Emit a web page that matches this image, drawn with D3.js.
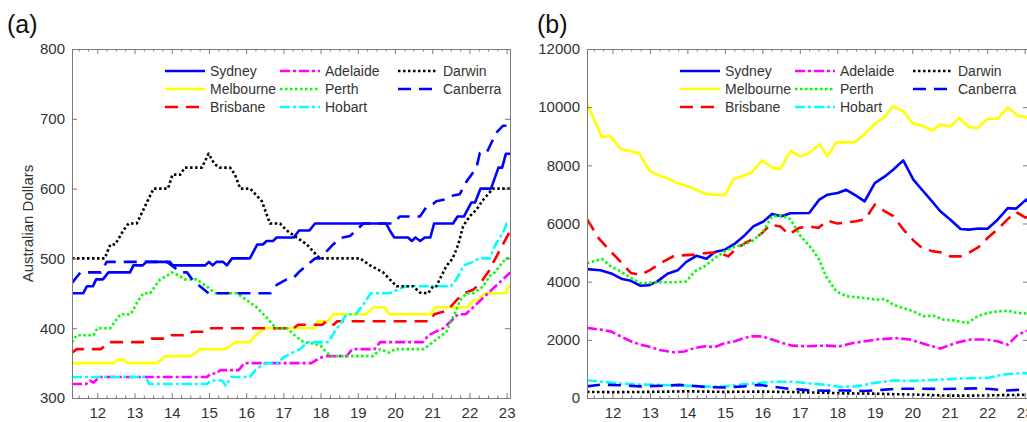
<!DOCTYPE html>
<html>
<head>
<meta charset="utf-8">
<script src="https://cdn.jsdelivr.net/npm/d3@7/dist/d3.min.js"></script>
<style>
html,body{margin:0;padding:0;background:#fff;overflow:hidden;}
svg{display:block;font-family:"Liberation Sans",Arial,Helvetica,sans-serif;}
</style>
</head>
<body>
<svg id="chart" width="1027" height="422"></svg>
<script>
// ---------------- DATA ----------------
const categories = ["Sydney","Melbourne","Brisbane","Adelaide","Perth","Hobart","Darwin","Canberra"];
const panelTitles = ["(a)","(b)"];
const yLabelA = "Australian Dollars";
const xTicks = [12,13,14,15,16,17,18,19,20,21,22,23];
const yTicksA = [300,400,500,600,700,800];
const yTicksB = [0,2000,4000,6000,8000,10000,12000];
const xDomain = [11.32, 23.09];

// Panel (a): median weekly rent, [year, AUD]
const rentSydney = [[11.32,450],[11.62,450],[11.72,460],[11.88,460],[11.97,470],[12.15,470],[12.3,480],[12.88,480],[12.97,490],[13.22,490],[13.32,495],[13.95,495],[14.02,490],[14.9,490],[15.0,495],[15.1,490],[15.2,495],[15.38,495],[15.48,490],[15.62,500],[16.1,500],[16.2,510],[16.3,520],[16.45,520],[16.55,525],[16.72,525],[16.82,530],[17.28,530],[17.42,540],[17.7,540],[17.85,550],[19.76,550],[19.86,540],[19.98,530],[20.35,530],[20.45,525],[20.55,530],[20.68,525],[20.8,530],[20.95,530],[21.05,550],[21.56,550],[21.68,560],[21.85,560],[21.95,570],[22.05,580],[22.15,580],[22.3,600],[22.58,600],[22.78,630],[22.88,630],[22.98,650],[23.1,650]];
const rentMelbourne = [[11.32,350],[12.45,350],[12.55,355],[12.72,355],[12.82,350],[13.6,350],[13.72,355],[13.82,360],[14.5,360],[14.65,365],[14.75,370],[15.45,370],[15.58,375],[15.7,380],[16.1,380],[16.25,390],[16.38,395],[16.52,400],[17.85,400],[17.92,410],[18.2,410],[18.35,420],[19.2,420],[19.32,425],[19.42,430],[19.72,430],[19.85,420],[20.95,420],[21.08,430],[21.95,430],[22.1,440],[22.25,440],[22.4,450],[22.98,450],[23.05,460],[23.1,460]];
const rentBrisbane = [[11.32,365],[11.45,370],[12.1,370],[12.3,380],[13.3,380],[13.45,385],[13.9,385],[14.0,390],[14.45,390],[14.55,395],[14.85,395],[14.95,400],[17.28,400],[17.4,405],[18.05,405],[18.15,410],[18.25,410],[18.35,405],[18.45,410],[20.95,410],[21.05,420],[21.4,425],[21.65,440],[21.85,450],[22.1,455],[22.3,465],[22.5,480],[22.7,500],[22.9,520],[23.1,540]];
const rentAdelaide = [[11.32,320],[11.7,320],[11.8,325],[11.9,322],[12.05,330],[14.95,330],[15.05,335],[15.2,335],[15.3,340],[15.8,340],[15.95,350],[17.75,350],[17.9,355],[18.1,360],[18.7,360],[18.85,370],[19.45,370],[19.6,380],[20.75,380],[20.9,390],[21.1,395],[21.3,400],[21.5,410],[21.7,420],[21.9,420],[22.1,430],[22.3,440],[22.5,450],[22.7,460],[22.9,470],[23.1,480]];
const rentPerth = [[11.32,380],[11.45,390],[11.9,390],[12.0,400],[12.35,400],[12.48,410],[12.62,420],[12.9,420],[13.1,440],[13.24,450],[13.42,450],[13.55,460],[13.69,470],[13.87,475],[14.0,480],[14.2,475],[14.35,470],[14.67,470],[14.94,460],[15.17,450],[15.75,450],[16.02,440],[16.28,430],[16.55,415],[16.8,400],[17.1,400],[17.3,390],[17.54,380],[17.8,378],[18.0,375],[18.16,365],[18.3,360],[19.41,360],[19.6,370],[19.85,365],[20.0,370],[20.76,370],[21.02,380],[21.38,395],[21.6,420],[21.75,440],[21.92,450],[22.1,450],[22.37,460],[22.55,475],[22.68,480],[22.9,495],[23.0,500],[23.1,500]];
const rentHobart = [[11.32,330],[13.3,330],[13.4,320],[14.95,320],[15.05,325],[15.35,325],[15.45,318],[15.6,330],[16.1,330],[16.25,340],[16.5,350],[16.85,350],[17.0,358],[17.25,365],[17.45,370],[17.65,380],[18.2,380],[18.38,395],[18.55,408],[18.7,420],[18.95,420],[19.15,434],[19.35,450],[19.85,450],[20.1,456],[20.3,460],[21.5,460],[21.65,470],[21.85,490],[22.1,495],[22.25,500],[22.55,500],[22.7,520],[22.9,537],[23.0,550],[23.1,550]];
const rentDarwin = [[11.32,500],[12.2,500],[12.35,520],[12.48,520],[12.7,540],[12.84,550],[13.06,550],[13.33,580],[13.51,600],[13.9,600],[14.02,620],[14.23,620],[14.35,630],[14.81,630],[14.99,650],[15.15,635],[15.3,630],[15.57,630],[15.7,620],[15.84,600],[16.11,600],[16.42,582],[16.64,550],[16.91,550],[17.09,540],[17.36,530],[17.63,520],[17.8,510],[17.98,500],[19.06,500],[19.33,490],[19.68,480],[19.86,470],[20.04,460],[20.49,460],[20.67,451],[20.89,450],[21.02,460],[21.11,460],[21.2,470],[21.38,489],[21.55,500],[21.7,520],[21.83,546],[22.0,560],[22.19,570],[22.37,584],[22.63,600],[23.1,600]];
const rentCanberra = [[11.32,465],[11.55,480],[12.1,480],[12.25,495],[13.87,495],[14.0,490],[14.23,480],[14.41,480],[14.58,468],[14.76,460],[14.99,450],[16.65,450],[16.82,462],[17.09,470],[17.27,472],[17.45,482],[17.72,494],[17.85,500],[17.98,500],[18.34,520],[18.52,529],[18.79,532],[18.97,541],[19.15,550],[19.95,550],[20.13,560],[20.67,560],[20.85,574],[21.02,578],[21.11,582],[21.38,585],[21.56,590],[21.74,592],[21.92,610],[22.19,630],[22.28,651],[22.46,651],[22.72,680],[22.9,690],[23.1,690]];

// Panel (b): number of listings, [year, count]
const listSydney = [[11.32,4430],[11.68,4390],[11.99,4270],[12.26,4090],[12.49,4030],[12.75,3860],[12.98,3880],[13.2,4010],[13.47,4270],[13.74,4390],[13.97,4680],[14.24,4890],[14.51,4790],[14.73,5020],[15.0,5100],[15.27,5310],[15.5,5560],[15.76,5900],[16.03,6070],[16.26,6330],[16.51,6250],[16.75,6350],[17.25,6360],[17.52,6820],[17.74,6990],[18.01,7050],[18.24,7160],[18.5,6960],[18.73,6760],[19.0,7390],[19.27,7620],[19.49,7850],[19.76,8170],[20.03,7510],[20.26,7160],[20.53,6760],[20.75,6420],[21.02,6130],[21.29,5810],[21.51,5790],[21.78,5830],[22.01,5820],[22.28,6130],[22.55,6530],[22.77,6510],[23.04,6820],[23.19,6680]];
const listMelbourne = [[11.32,10120],[11.72,8970],[11.95,9000],[12.22,8560],[12.71,8420],[12.98,7830],[13.25,7640],[13.47,7560],[13.74,7390],[14.01,7280],[14.51,7010],[15.0,6970],[15.23,7530],[15.5,7640],[15.72,7760],[15.99,8170],[16.26,7930],[16.48,7870],[16.75,8500],[17.02,8310],[17.25,8420],[17.52,8730],[17.74,8310],[17.97,8790],[18.46,8790],[18.73,9080],[19.0,9420],[19.27,9680],[19.49,10030],[19.76,9860],[20.03,9420],[20.26,9370],[20.53,9200],[20.75,9400],[21.02,9340],[21.25,9630],[21.51,9320],[21.74,9280],[22.01,9600],[22.28,9600],[22.55,9990],[22.82,9710],[23.04,9660],[23.19,9450]];
const listBrisbane = [[11.32,6150],[11.63,5500],[11.95,5040],[12.22,4680],[12.49,4300],[12.75,4230],[13.0,4400],[13.29,4640],[13.65,4890],[14.19,4930],[14.55,4990],[14.82,5010],[15.09,4870],[15.27,5100],[15.54,5330],[15.81,5500],[15.99,5670],[16.21,5960],[16.48,5900],[16.71,5620],[16.98,5850],[17.25,5900],[17.5,5850],[17.74,6100],[18.0,6000],[18.24,6030],[18.5,6080],[18.75,6150],[19.0,6650],[19.27,6420],[19.5,6250],[19.76,5800],[20.03,5420],[20.26,5160],[20.53,5050],[20.8,5000],[21.02,4870],[21.29,4870],[21.51,4990],[21.78,5200],[22.01,5500],[22.28,5800],[22.55,6150],[22.77,6400],[23.02,6200],[23.19,6280]];
const listAdelaide = [[11.32,2410],[11.68,2350],[11.95,2290],[12.22,2120],[12.49,1950],[12.75,1830],[13.02,1750],[13.29,1640],[13.65,1570],[13.92,1600],[14.19,1720],[14.46,1780],[14.73,1750],[15.0,1890],[15.27,1950],[15.5,2060],[15.72,2120],[15.99,2120],[16.26,2010],[16.53,1890],[16.8,1800],[17.16,1780],[17.7,1800],[18.06,1780],[18.42,1890],[19.04,2010],[19.58,2060],[19.94,2010],[20.39,1830],[20.75,1700],[21.2,1910],[21.56,2010],[21.96,2010],[22.28,1950],[22.55,1830],[22.82,2180],[23.19,2370]];
const listPerth = [[11.32,4640],[11.72,4780],[11.95,4530],[12.22,4350],[12.49,4130],[12.75,3950],[13.29,3980],[13.65,3980],[13.97,4010],[14.19,4350],[14.46,4530],[14.73,4810],[15.0,5040],[15.27,5210],[15.5,5270],[15.72,5390],[15.99,5670],[16.26,6250],[16.51,6270],[16.75,6150],[17.0,5600],[17.34,5100],[17.52,4750],[17.7,4180],[17.97,3670],[18.24,3500],[18.73,3440],[19.04,3380],[19.27,3400],[19.49,3210],[19.76,3090],[20.03,2980],[20.3,2810],[20.57,2830],[20.84,2690],[21.11,2670],[21.47,2580],[21.74,2810],[22.01,2920],[22.28,2980],[22.55,3000],[22.82,2920],[23.09,2900],[23.19,2980]];
const listHobart = [[11.32,610],[11.7,560],[12.2,500],[12.75,460],[13.3,450],[13.9,430],[14.5,390],[15.0,400],[15.5,470],[16.0,530],[16.3,560],[16.8,560],[17.2,510],[17.7,450],[18.1,380],[18.5,400],[19.0,520],[19.5,600],[20.0,590],[20.5,620],[21.0,650],[21.5,680],[22.0,690],[22.5,820],[23.0,860],[23.19,800]];
const listDarwin = [[11.32,210],[12.0,200],[13.0,210],[14.0,230],[15.0,210],[16.0,220],[17.0,200],[17.6,180],[18.2,160],[19.0,150],[19.5,130],[20.0,120],[20.5,100],[21.0,80],[21.5,80],[22.0,90],[22.5,100],[23.0,110],[23.19,110]];
const listCanberra = [[11.32,400],[11.7,460],[12.2,440],[12.75,400],[13.3,420],[13.8,450],[14.2,410],[14.6,370],[15.0,360],[15.5,400],[15.9,450],[16.3,390],[16.7,320],[17.2,270],[17.7,250],[18.2,260],[18.7,240],[19.2,280],[19.6,320],[20.2,320],[20.8,310],[21.3,320],[21.7,330],[22.1,310],[22.5,260],[23.0,290],[23.19,300]];

const seriesA = [rentSydney,rentMelbourne,rentBrisbane,rentAdelaide,rentPerth,rentHobart,rentDarwin,rentCanberra];
const seriesB = [listSydney,listMelbourne,listBrisbane,listAdelaide,listPerth,listHobart,listDarwin,listCanberra];

// ---------------- STYLE ----------------
const styles = {
  Sydney:    {color:"#0000ff", dash:null},
  Melbourne: {color:"#ffff00", dash:null},
  Brisbane:  {color:"#ff0000", dash:"13,8"},
  Adelaide:  {color:"#ff00ff", dash:"10,3,3,3"},
  Perth:     {color:"#00ff00", dash:"2.5,2.5"},
  Hobart:    {color:"#00ffff", dash:"10,3,3,3"},
  Darwin:    {color:"#000000", dash:"2.5,2.5"},
  Canberra:  {color:"#0000ff", dash:"13,8"}
};
const LW = 2.6;
const axisColor = "#7a7a7a";
const textColor = "#333333";

const svg = d3.select("#chart");
const plotTop = 49, plotBottom = 398;

const panels = [
  {left:72, right:510, yDomain:[300,800], yTicks:yTicksA, data:seriesA, title:panelTitles[0], titleX:7, ylabel:yLabelA},
  {left:587, right:1028, yDomain:[0,12000], yTicks:yTicksB, data:seriesB, title:panelTitles[1], titleX:537, ylabel:null}
];

panels.forEach((p, pi) => {
  const x = d3.scaleLinear().domain(xDomain).range([p.left, p.right]);
  const y = d3.scaleLinear().domain(p.yDomain).range([plotBottom, plotTop]);
  const g = svg.append("g");

  const clipId = "clip" + pi;
  svg.append("clipPath").attr("id", clipId).append("rect")
    .attr("x", p.left).attr("y", plotTop).attr("width", p.right - p.left).attr("height", plotBottom - plotTop);

  const line = d3.line().x(d => x(d[0])).y(d => y(d[1]));
  const lines = g.append("g").attr("clip-path", `url(#${clipId})`);
  p.data.forEach((s, i) => {
    const st = styles[categories[i]];
    lines.append("path").datum(s)
      .attr("d", line)
      .attr("fill", "none")
      .attr("stroke", st.color)
      .attr("stroke-width", LW)
      .attr("stroke-linejoin", "round")
      .attr("stroke-dasharray", st.dash);
  });

  const quarters = d3.range(11.5, 23.09, 0.25).filter(v => Math.abs(v - Math.round(v)) > 1e-6);
  const styleAxis = sel => {
    sel.selectAll(".domain").attr("stroke", axisColor).attr("stroke-width", 1);
    sel.selectAll(".tick line").attr("stroke", axisColor).attr("stroke-width", 1);
    sel.selectAll("text").attr("fill", textColor).attr("font-size", 15)
      .attr("font-family", '"Liberation Sans",Arial,sans-serif');
  };
  g.append("g").attr("transform", `translate(0,${plotBottom})`)
    .call(d3.axisBottom(x).tickValues(xTicks).tickSize(-5).tickSizeOuter(0).tickPadding(9.5).tickFormat(d3.format("d")))
    .call(styleAxis);
  g.append("g").attr("transform", `translate(0,${plotBottom})`)
    .call(d3.axisBottom(x).tickValues(quarters).tickSize(-2.5).tickSizeOuter(0).tickFormat(""))
    .call(styleAxis);
  g.append("g").attr("transform", `translate(0,${plotTop})`)
    .call(d3.axisTop(x).tickValues(xTicks).tickSize(-5).tickSizeOuter(0).tickFormat(""))
    .call(styleAxis);
  g.append("g").attr("transform", `translate(0,${plotTop})`)
    .call(d3.axisTop(x).tickValues(quarters).tickSize(-2.5).tickSizeOuter(0).tickFormat(""))
    .call(styleAxis);
  g.append("g").attr("transform", `translate(${p.left},0)`)
    .call(d3.axisLeft(y).tickValues(p.yTicks).tickSize(-5).tickSizeOuter(0).tickPadding(7).tickFormat(d3.format("d")))
    .call(styleAxis);
  g.append("g").attr("transform", `translate(${p.right},0)`)
    .call(d3.axisRight(y).tickValues(p.yTicks).tickSize(-5).tickSizeOuter(0).tickFormat(""))
    .call(styleAxis);

  g.append("text").attr("x", p.titleX).attr("y", 33)
    .attr("font-size", 25).attr("fill", "#111").text(p.title);

  if (p.ylabel) {
    g.append("text")
      .attr("transform", `translate(33,${(plotTop + plotBottom) / 2}) rotate(-90)`)
      .attr("text-anchor", "middle")
      .attr("font-size", 15).attr("fill", textColor)
      .text(p.ylabel);
  }

  const colX = [93, 208, 326];
  const rowY = [71, 89, 107];
  const leg = g.append("g");
  categories.forEach((c, i) => {
    const col = Math.floor(i / 3), row = i % 3;
    const lx = p.left + colX[col], ly = rowY[row];
    const st = styles[c];
    leg.append("line")
      .attr("x1", lx).attr("x2", lx + 40).attr("y1", ly).attr("y2", ly)
      .attr("stroke", st.color).attr("stroke-width", LW)
      .attr("stroke-dasharray", st.dash);
    leg.append("text").attr("x", lx + 45).attr("y", ly).attr("dy", "0.35em")
      .attr("font-size", 14).attr("fill", textColor).text(c);
  });
});
</script>
</body>
</html>
